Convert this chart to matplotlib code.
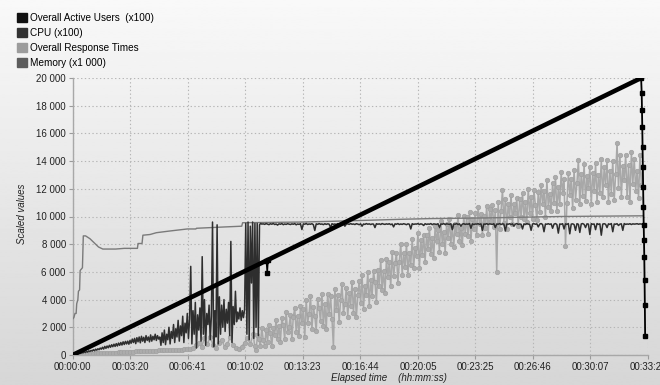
import numpy as np
import matplotlib
matplotlib.use("Agg")
import matplotlib.pyplot as plt
from matplotlib.patches import Patch
from matplotlib.ticker import FuncFormatter

plt.rcParams['font.family'] = ['Liberation Sans', 'DejaVu Sans']

# ---------------- data ----------------
series_names = ["Overall Active Users  (x100)", "CPU (x100)",
                "Overall Response Times", "Memory (x1 000)"]

x_tick_labels = ["00:00:00", "00:03:20", "00:06:41", "00:10:02", "00:13:23",
                 "00:16:44", "00:20:05", "00:23:25", "00:26:46", "00:30:07", "00:33:28"]
x_end = 2008  # seconds at last tick
y_ticks = [0, 2000, 4000, 6000, 8000, 10000, 12000, 14000, 16000, 18000, 20000]

# Overall active users (x100)
users_ramp_t = [0, 676, 682, 1984]
users_ramp_v = [0, 6815, 6875, 20000]
users_blip_t = [676, 679, 682]
users_blip_v = [6815, 5900, 6875]
users_drop_t = [1984, 1986, 1987, 1988, 1989, 1990, 1991, 1992, 1993, 1994,
                1995, 1996, 1997, 1998]
users_drop_v = [20000, 18890, 17690, 16480, 15040, 13600, 12150, 10710, 9390,
                8300, 7100, 5420, 3610, 1390]

# CPU (x100): early part sampled every 4 s (0..660), late part every 5 s (665..1990)
cpu_early = [
    0, 40, 80, 30, 120, 90, 160, 110, 200, 150, 240, 180, 260, 210, 300, 250,
    330, 280, 380, 300, 420, 350, 450, 380, 500, 420,
    560, 430, 620, 480, 650, 520, 700, 560, 740, 600, 780, 620, 820, 650, 860,
    700, 900, 720, 950, 760, 980, 800, 1000, 780, 1050,
    850, 1150, 900, 1200, 820, 1250, 950, 1300, 880, 1350, 1000, 1280, 900,
    1400, 1050, 1300, 950, 1450, 1000, 1350, 1100, 1500, 1050, 1400, 1150,
    1300, 700, 1600, 900, 1800, 750, 1500, 1100, 2000, 800, 1700, 1200, 2200,
    900, 1900, 1300, 2500, 1000, 2100, 1400, 2800, 900, 2300, 1600, 3000,
    1200, 2600, 6400, 800, 3200, 1500, 3800, 500, 2900, 1800, 3400, 1000, 7100,
    1500, 4000, 700, 3000, 2200, 3600, 1100, 2800, 9600, 600, 3200, 1300,
    9400, 800, 4200, 1500, 3600, 2000, 4000, 1700, 3300, 2300, 3800, 1400, 8200,
    900, 3500, 2200, 4600, 2400, 3100, 2600, 3400, 2500, 3200, 2700, 3300,
    9500, 1500, 9600, 1100, 9300, 5200, 9600, 1200, 9500, 2000, 9500, 1400,
    9400, 9500, 9450]
cpu_late = [
    9470, 9430, 9490, 9450, 9410, 9480, 9440, 9500, 9420, 9460, 9380, 9470, 9440, 9490, 9410, 9460, 9430, 9480, 9450, 9420,
    9470, 9440, 9490, 9400, 9460, 9430, 9480, 9060, 9470, 9440, 9500, 9420, 9460, 9440, 9480, 9410, 8990, 9470, 9430, 9490,
    9440, 9460, 9410, 9480, 9430, 9470, 9450, 9200, 9480, 9430, 9460, 9420, 9490, 9440, 9460, 9410, 9480, 9300, 9450, 9470,
    9430, 9490, 9440, 9460, 9420, 9480, 9450, 9410, 9470, 9300, 9460, 9430, 9490, 9440, 9470, 9420, 9460, 9450, 9200, 9480,
    9440, 9470, 9420, 9490, 9450, 9430, 9470, 9440, 9480, 9410, 9460, 9250, 9470, 9440, 9490, 9420, 9460, 9430, 9480, 9450,
    9410, 9470, 9440, 9100, 9480, 9430, 9460, 9450, 9490, 9420, 9470, 9440, 9350, 9480, 9430, 9460, 9440, 9490, 9410, 9470,
    9450, 9430, 9480, 9200, 9460, 9440, 9490, 9420, 9470, 9450, 9430, 9480, 9050, 9460, 9440, 9490, 9420, 9470, 9300, 9450,
    9480, 9430, 9460, 9440, 9490, 9150, 9470, 9420, 9460, 9450, 9480, 9430, 9470, 9000, 9460, 9440, 9490, 9420, 9470, 9450,
    9430, 9480, 9200, 9460, 9440, 9490, 9420, 9470, 9450, 8950, 9460, 9440, 9480, 9420, 9470, 9300, 9450, 9490, 9430, 9460,
    9440, 9100, 9470, 9420, 9490, 9450, 9430, 9000, 9460, 9480, 9440, 9470, 9250, 9450, 9490, 9420, 8900, 9460, 9440, 9480,
    9430, 9470, 9150, 9450, 9490, 9420, 8800, 9460, 9440, 9480, 9100, 9470, 9430, 9490, 8750, 9450, 9470, 9420, 9000, 9480,
    9440, 8850, 9460, 9490, 9430, 9200, 9470, 9450, 8700, 9480, 9440, 9460, 9050, 9490, 9430, 9470, 8650, 9450, 9480, 9440,
    9200, 9470, 9430, 9490, 8900, 9460, 9440, 9480, 9350, 9450, 9470, 9000, 9490, 9430, 9460, 9440, 9480, 9420, 9470, 9450,
    9460, 9480, 9440, 9470, 9450, 9460]

# Overall response times: early part every 10 s (0..620), late part every 5 s (630..1990)
resp_early = [
    20, 30, 40, 50, 60, 80, 90, 100, 110, 120, 130, 140, 150, 160, 170, 180,
    200, 210, 220, 230, 240, 250, 260, 270, 280, 290, 300, 310, 300, 320, 330,
    340, 330, 350, 360, 350, 370, 380, 390, 400, 410,
    450, 500, 700, 900, 600, 1200, 800, 1300, 700, 500, 900, 1100, 600, 800,
    1300, 700, 500, 400, 600, 900, 1200, 800]
resp_late = [
    1530, 670, 350, 1410, 1180, 620, 1980, 1090, 660, 1840,
    970, 2170, 1590, 650, 1970, 1460, 2560, 1170, 2090, 970,
    2640, 2160, 1140, 3130, 1660, 2040, 2870, 1130, 2760, 3390,
    1680, 2810, 1400, 3550, 2330, 3320, 1280, 3980, 2340, 2940,
    4240, 1900, 3480, 2820, 1740, 4020, 3360, 2420, 4420, 2080,
    3660, 1880, 4440, 2940, 4240, 2600, 600, 4780, 3280, 4300,
    2380, 3960, 5120, 3060, 3660, 4820, 2760, 4480, 3540, 5260,
    3060, 4780, 2720, 4300, 5320, 3730, 5770, 3340, 4960, 4350,
    5970, 3540, 5440, 4270, 6030, 5280, 3820, 6150, 4970, 6880,
    4720, 6070, 4470, 6940, 5620, 6690, 4950, 7420, 5680, 6610,
    7380, 5170, 6740, 8020, 5800, 7350, 6340, 8030, 5810, 7360,
    6510, 8400, 6260, 7760, 7180, 8810, 6280, 8300, 7200, 8700,
    6740, 8680, 7630, 9200, 7270, 8450, 7000, 9290, 8210, 9000,
    7460, 9660, 8020, 8910, 7390, 9470, 8440, 9800, 8040, 9290,
    7820, 9470, 8710, 10130, 8220, 9190, 7960, 10070, 8740, 9930,
    8620, 10300, 8250, 9830, 9100, 10240, 8630, 10650, 9480, 10180,
    8680, 10030, 9190, 10770, 8720, 10520, 9680, 10820, 9210, 10460,
    6000, 11020, 9090, 10390, 11900, 9530, 11290, 9130, 10890, 10000,
    11570, 9440, 10910, 10220, 11330, 9320, 11270, 9990, 11700, 9810,
    11060, 9590, 11990, 10270, 11430, 9850, 11890, 10820, 9730, 11780,
    10300, 12290, 10910, 11870, 9960, 12610, 10710, 11660, 10410, 12410,
    10980, 12850, 10380, 12100, 10890, 13180, 11680, 12710, 7900, 10950,
    13120, 11550, 12740, 10590, 13380, 11220, 12410, 14100, 10880, 13070,
    11480, 13760, 11090, 12910, 12040, 13570, 10900, 13170, 11850, 13830,
    11060, 13000, 11730, 14150, 11440, 13540, 12270, 14050, 11020, 13280,
    11640, 14030, 11160, 13040, 15300, 12050, 14450, 11410, 13630, 12630,
    14430, 11390, 13740, 11060, 14680, 12350, 14170, 11840, 13300, 11330,
    14410, 12270, 13540]

# Memory (x1 000)
mem_t = [0, 4, 8, 12, 14, 18, 20, 24, 26, 30, 34, 37, 45, 60, 75, 90, 105, 150,
         180, 226, 228, 242, 245, 270, 292, 338, 400, 430, 432, 535, 590, 593,
         800, 900, 1150, 1250, 1450, 1700, 1990]
mem_v = [2600, 2700, 3000, 3000, 3700, 4000, 4600, 4700, 6100, 6200, 6300, 8600,
         8600, 8400, 8100, 7800, 7650, 7650, 7700, 7700, 8050, 8050, 8650, 8700,
         8830, 8950, 9100, 9100, 9150, 9250, 9300, 9550, 9600, 9650, 9800, 9850,
         9900, 10000, 10050]

cpu_early_step = 4
cpu_late_start, cpu_late_step = 665, 5
resp_early_step = 10
resp_late_start, resp_late_step = 630, 5

# ---------------- figure ----------------
W, H = 660, 385
fig = plt.figure(figsize=(W / 100, H / 100), dpi=100)

# background gradient
bg = fig.add_axes([0, 0, 1, 1], zorder=-10)
grad = np.linspace(0.975, 0.84, 256).reshape(-1, 1)
bg.imshow(grad, aspect='auto', cmap='gray', vmin=0, vmax=1, extent=[0, 1, 0, 1])
bg.axis('off')

left, right = 72.7, 648.0
top, bottom = 78.0, 355.0
ax = fig.add_axes([left / W, 1 - bottom / H, (right - left) / W, (bottom - top) / H])
ax.set_facecolor('none')

cpu_t = list(np.arange(len(cpu_early)) * cpu_early_step) + \
        list(cpu_late_start + np.arange(len(cpu_late)) * cpu_late_step)
cpu_v = cpu_early + cpu_late
resp_t = list(np.arange(len(resp_early)) * resp_early_step) + \
         list(resp_late_start + np.arange(len(resp_late)) * resp_late_step)
resp_v = resp_early + resp_late

ax.plot(mem_t, mem_v, color='#7a7a7a', lw=1.0, zorder=3)
ax.plot(resp_t, resp_v, color='#a8a8a8', lw=1.1, marker='o', ms=3.2,
        mec='#a0a0a0', mfc='#acacac', mew=0.5, zorder=2)
ax.plot(cpu_t, cpu_v, color='#2e2e2e', lw=1.1, zorder=4)
ax.plot(users_ramp_t, users_ramp_v, color='#000000', lw=3.3,
        solid_capstyle='butt', zorder=5)
ax.plot(users_blip_t, users_blip_v, color='#000000', lw=1.0, marker='s', ms=2.5, zorder=5)
ax.plot(users_drop_t, users_drop_v, color='#000000', lw=1.3, marker='s', ms=2.6, zorder=5)

ax.set_xlim(0, x_end)
ax.set_ylim(0, 20000)
xt = np.arange(len(x_tick_labels)) * x_end / (len(x_tick_labels) - 1)
ax.set_xticks(xt)
ax.set_xticklabels(x_tick_labels)
ax.set_yticks(y_ticks)
ax.yaxis.set_major_formatter(FuncFormatter(lambda v, p: f"{int(v):,}".replace(",", " ")))
ax.tick_params(labelsize=7, colors='#9a9a9a', labelcolor='#222222', length=3, width=0.8, pad=2)
ax.grid(True, color='#b5b5b5', linestyle=(0, (1.2, 2.2)), lw=0.8)
for s in ['top', 'right']:
    ax.spines[s].set_visible(False)
for s in ['left', 'bottom']:
    ax.spines[s].set_color('#a8a8a8')
    ax.spines[s].set_linewidth(1.0)

fig.text(22 / W, 1 - 214 / H, "Scaled values", rotation=90, style='italic',
         fontsize=7, color='#222222', ha='center', va='center')
fig.text(389 / W, 1 - 378 / H, "Elapsed time    (hh:mm:ss)", style='italic',
         fontsize=7, color='#222222', ha='center', va='center')

handles = [Patch(facecolor=c, edgecolor=c) for c in ['#111111', '#333333', '#9c9c9c', '#5c5c5c']]
fig.legend(handles, series_names, loc='upper left', bbox_to_anchor=(17 / W, 1 - 13 / H),
           frameon=False, fontsize=7.2, handlelength=0.95, handleheight=0.95,
           handletextpad=0.4, labelspacing=0.5, borderpad=0, borderaxespad=0)

fig.savefig("out.png", dpi=100)
